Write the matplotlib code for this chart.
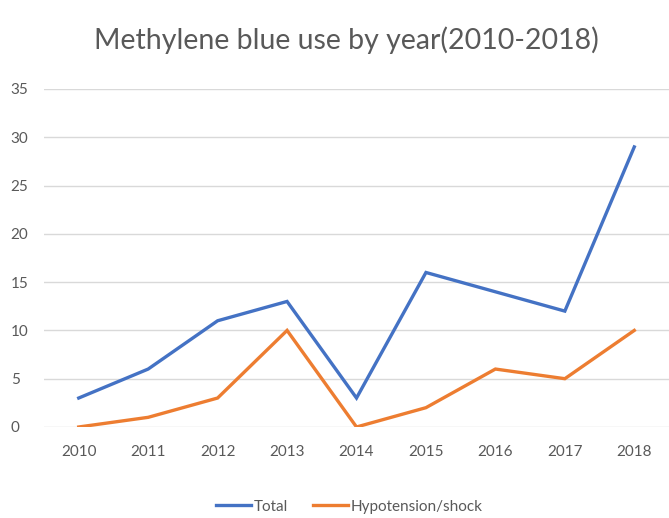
import matplotlib
matplotlib.use("Agg")
import matplotlib.pyplot as plt

years = ["2010", "2011", "2012", "2013", "2014", "2015", "2016", "2017", "2018"]
total = [3, 6, 11, 13, 3, 16, 14, 12, 29]
hypotension = [0, 1, 3, 10, 0, 2, 6, 5, 10]

plt.rcParams['font.family'] = ['Lato', 'DejaVu Sans']

fig = plt.figure(figsize=(6.69, 5.18), dpi=100)
ax = fig.add_axes([0.0658, 0.1757, 0.9342, 0.6525])

x = range(len(years))
ax.plot(x, total, color="#4472C4", lw=2.4, label="Total", solid_joinstyle="miter")
ax.plot(x, hypotension, color="#ED7D31", lw=2.4, label="Hypotension/shock", solid_joinstyle="miter")

ax.set_xlim(-0.5, len(years) - 0.5)
ax.set_ylim(0, 35)
ax.set_yticks(range(0, 36, 5))
ax.set_xticks(list(x))
ax.set_xticklabels(years)
ax.grid(axis="y", color="#d9d9d9", lw=1)
ax.set_axisbelow(True)
for s in ax.spines.values():
    s.set_visible(False)
ax.tick_params(length=0, labelsize=11, colors="#595959", pad=13)
ax.tick_params(axis="y", pad=24)
for lbl in ax.get_yticklabels():
    lbl.set_horizontalalignment("left")

fig.suptitle("Methylene blue use by year(2010-2018)", x=0.518, y=0.95, fontsize=20.5, color="#595959")
fig.legend(loc="center", bbox_to_anchor=(0.522, 0.022), ncol=2, frameon=False,
           fontsize=11, labelcolor="#595959", handlelength=2.3, handletextpad=0.2,
           columnspacing=1.6)

fig.savefig("out.png", dpi=100)
